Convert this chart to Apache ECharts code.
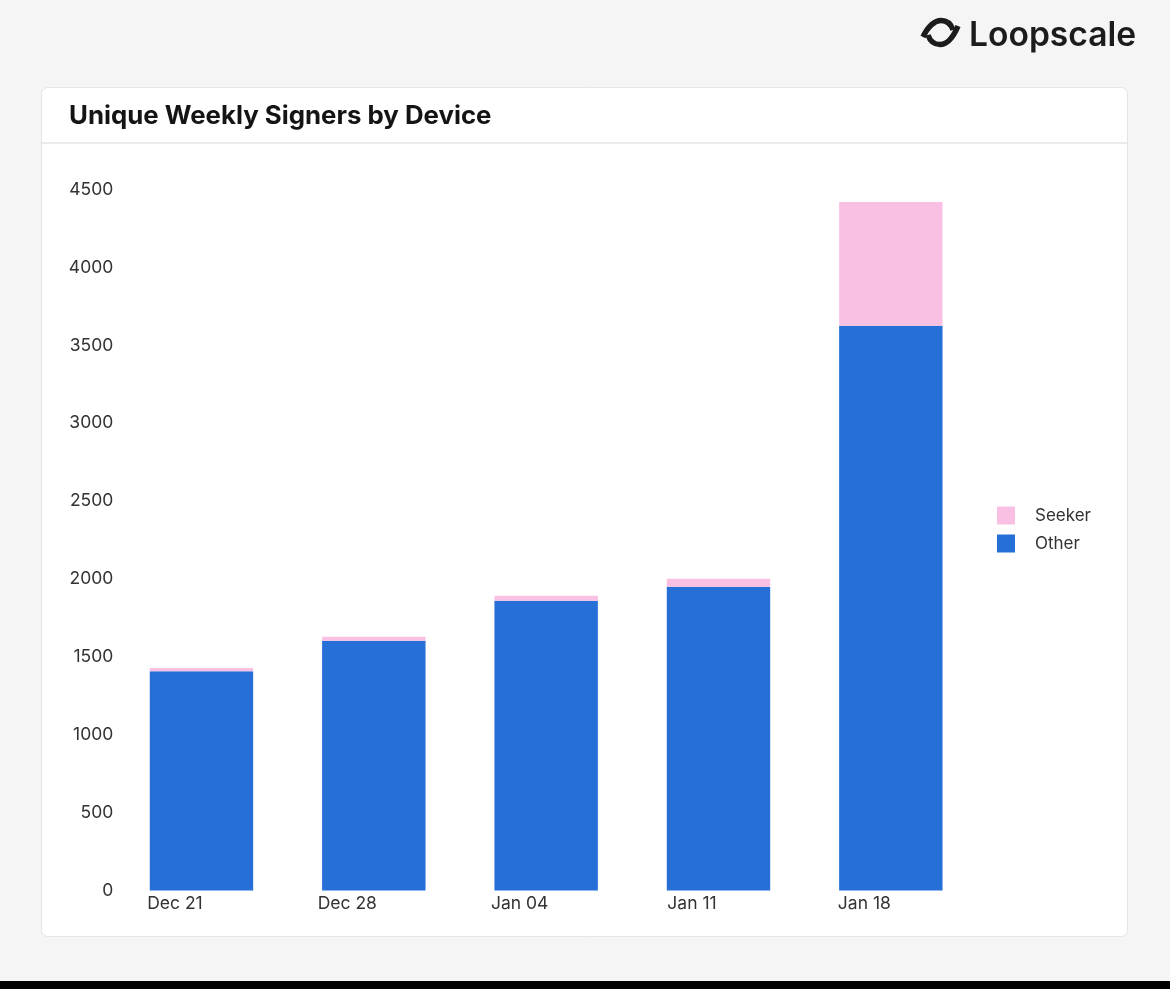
<!DOCTYPE html>
<html>
<head>
<meta charset="utf-8">
<title>Unique Weekly Signers by Device</title>
<script src="https://cdn.jsdelivr.net/npm/echarts@6/dist/echarts.min.js"></script>
<style>
    html, body { margin: 0; padding: 0; background: #f5f5f5; }
    #chart { width: 1170px; height: 989px; }
    #logoIcon { position: absolute; left: 0; top: 0; }
</style>
</head>
<body>
<div id="chart"></div>
<svg id="logoIcon" width="1170" height="60">
    <path fill="none" stroke="#1c1c1c" stroke-width="5.5" d="M923 37 C928 26 935 20.5 941 20.5 C947 20.5 951 24 953 30"/>
    <path fill="none" stroke="#1c1c1c" stroke-width="5.5" d="M958 26 C953 38 947 44.5 940 44.5 C934 44.5 930 41 928 35"/>
</svg>
<script>
const weeks = ['Dec 21', 'Dec 28', 'Jan 04', 'Jan 11', 'Jan 18'];
const other = [1408, 1603, 1860, 1950, 3625];
const seeker = [21, 26, 32, 52, 795];
const fontName = 'Inter';

var myChart = echarts.init(document.getElementById('chart'));
var option = {
    backgroundColor: '#f5f5f5',
    animation: false,
    textStyle: { fontFamily: fontName },
    title: {
        text: 'Unique Weekly Signers by Device',
        left: 69,
        top: 103,
        padding: 0,
        textStyle: { fontFamily: fontName, fontSize: 25.8, fontWeight: 700, color: '#141414' }
    },
    legend: {
        data: ['Seeker', 'Other'],
        orient: 'vertical',
        left: 997,
        top: 505,
        padding: 0,
        itemWidth: 18,
        itemHeight: 18,
        itemGap: 7,
        icon: 'rect',
        textStyle: {
            fontFamily: fontName,
            fontSize: 17,
            color: '#333',
            verticalAlign: 'middle',
            lineHeight: 17,
            padding: [4, 0, 0, 15]
        }
    },
    grid: { left: 115.3, right: 193, top: 189.5, bottom: 98.5 },
    xAxis: {
        type: 'category',
        data: weeks,
        axisLine: { show: false },
        axisTick: { show: false },
        axisLabel: {
            interval: 0,
            margin: 4,
            fontFamily: fontName,
            fontSize: 17.5,
            color: '#333',
            padding: [0, 53, 0, 0]
        }
    },
    yAxis: {
        type: 'value',
        min: 0,
        max: 4500,
        interval: 500,
        axisLine: { show: false },
        axisTick: { show: false },
        splitLine: { show: false },
        axisLabel: {
            margin: 2,
            fontFamily: fontName,
            fontSize: 17.5,
            color: '#333',
            formatter: function (value) {
                return String(value);
            }
        }
    },
    series: [
        {
            name: 'Other',
            type: 'bar',
            stack: 'device',
            barCategoryGap: '40%',
            itemStyle: { color: '#256fd6' },
            data: other
        },
        {
            name: 'Seeker',
            type: 'bar',
            stack: 'device',
            itemStyle: { color: '#f9c0e3' },
            data: seeker
        }
    ],
    graphic: [
        // card and header rule
        { type: 'rect', silent: true, z: -10, shape: { x: 41.5, y: 87.5, width: 1086, height: 849, r: 6 },
          style: { fill: '#fff', stroke: '#e4e4e4', lineWidth: 1 } },
        { type: 'line', silent: true, z: -9, shape: { x1: 42, y1: 143, x2: 1127, y2: 143 },
          style: { stroke: '#ebebeb', lineWidth: 2 } },
        // black strip at the bottom of the screenshot
        { type: 'rect', silent: true, z: -9, shape: { x: 0, y: 981, width: 1170, height: 8 },
          style: { fill: '#000' } },
        // logo text, the icon is the svg above
        { type: 'text', silent: true, z: -9, x: 969, y: 36,
          style: { text: 'Loopscale', fontFamily: fontName, fontSize: 33.6, fontWeight: 600, fill: '#1c1c1c', textVerticalAlign: 'middle' } }
    ]
};
myChart.setOption(option);
</script>
</body>
</html>
